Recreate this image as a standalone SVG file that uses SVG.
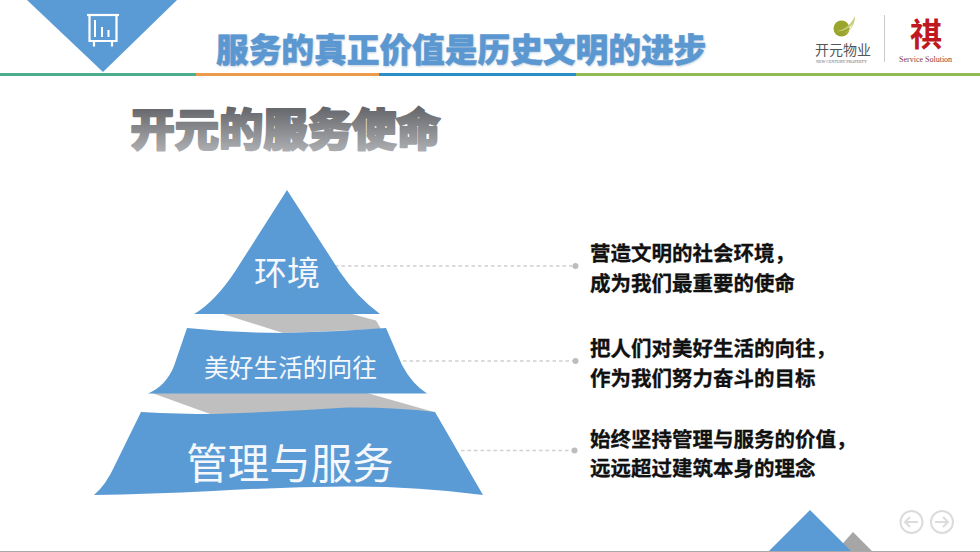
<svg xmlns="http://www.w3.org/2000/svg" width="980" height="552" viewBox="0 0 980 552">
<defs>
<linearGradient id="sub" x1="0" y1="0" x2="0" y2="1"><stop offset="0" stop-color="#4f5156"/><stop offset="1" stop-color="#b9babd"/></linearGradient>
<filter id="blurS" x="-5%" y="-20%" width="110%" height="140%"><feGaussianBlur stdDeviation="0.8"/></filter>
</defs>
<style>
.cjk{font-family:"Noto Sans CJK SC","Noto Sans",sans-serif}
.blue{fill:#5b9bd5}
.gray{fill:#bfbfbf}
.lbl{fill:#f4f8fc;text-anchor:middle;font-weight:400}
.desc{font-size:20.5px;font-weight:700;fill:#111;stroke:#111;stroke-width:.3}
.dash{stroke:#d0d0d0;stroke-width:1.3;stroke-dasharray:3.5 3;fill:none}
.dot{fill:#bdbdbd}
.nav{fill:none;stroke:#dcdcdc;stroke-width:2}
</style>
<rect width="980" height="552" fill="#fff"/>

<g id="header">
<path class="blue" d="M27 0H177L103 72Z"/>
<g fill="none" stroke="#fff" stroke-width="2.200">
<path d="M87 15H119"/><path d="M89.500 15V41H116.500V15"/><path d="M94 41V46.500M112 41V46.500"/>
<path d="M95 20V37M102 27V37M108.500 30V37" stroke-width="2"/>
</g>
<rect x="0" y="73" width="196" height="3" fill="#4caf8c"/>
<rect x="196" y="73" width="183" height="3" fill="#ec9a4c"/>
<rect x="379" y="73" width="197" height="3" fill="#2a8fc4"/>
<rect x="576" y="73" width="404" height="3" fill="#8fbc55"/>
<text class="cjk" x="216.800" y="62.800" font-size="32.700" font-weight="900" fill="#b7c9db" filter="url(#blurS)">服务的真正价值是历史文明的进步</text>
<text class="cjk" x="216" y="62" font-size="32.700" font-weight="900" fill="#5b97d0" stroke="#5b97d0" stroke-width=".5">服务的真正价值是历史文明的进步</text>
</g>

<g id="logo">
<circle cx="841.500" cy="28.500" r="8" fill="#9aa52e"/>
<path d="M837 31C844 30 851 25 855 16C855 24 851 31 844 34C848 31 851 28 853 24C848 29 843 32 837 31Z" fill="#c6cc7a"/>
<text class="cjk" x="815" y="55" font-size="14" fill="#555">开元物业</text>
<text x="816" y="62.500" font-size="4.100" font-family="Liberation Serif,serif" fill="#666">NEW CENTURY PROPERTY</text>
<rect x="884" y="15" width="1" height="47" fill="#ccc"/>
<text class="cjk" x="926" y="45.500" font-size="32" font-weight="700" fill="#c0181f" text-anchor="middle">祺</text>
<text x="899" y="62" font-size="8" font-family="Liberation Serif,serif" fill="#8a3a3a">Service Solution</text>
</g>

<g id="subtitle">
<text class="cjk" x="130.500" y="145.500" font-size="44.300" font-weight="900" fill="url(#sub)" stroke="url(#sub)" stroke-width="2.200" stroke-linejoin="round">开元的服务使命</text>
</g>

<g id="connectors">
<path class="dash" d="M335 266H575"/>
<path class="dash" d="M403 361H575"/>
<path class="dash" d="M461 450.500H574"/>
<circle class="dot" cx="575.500" cy="266" r="3"/>
<circle class="dot" cx="575.500" cy="361" r="3"/>
<circle class="dot" cx="574.500" cy="450.500" r="3"/>
</g>

<g id="band-1">
<path class="gray" d="M223 314H352L376 320.500L381 329L283 333Z"/>
</g>
<g id="band-2">
<path class="gray" d="M152 393H367L434 412L213 415Z"/>
</g>

<g id="node-env">
<path class="blue" d="M287 190L340 272Q357 297 380 314H194Q215 302 236 270Z"/>
<text class="cjk lbl" x="287" y="285" font-size="33">环境</text>
</g>
<g id="node-life">
<path class="blue" d="M187 328Q235 333 283 333Q335 332 386 328L402 365Q412 384 427 393.500H148Q166 386 174 366Z"/>
<text class="cjk lbl" x="290.500" y="377" font-size="24.700">美好生活的向往</text>
</g>
<g id="node-mgmt">
<path class="blue" d="M141 412Q180 414 213 414Q280 412 347 407.500Q395 407 435 412L483 495Q415 486 347 486.500Q280 487 213 491Q150 494 94 495Q106 485 115 465Z"/>
<text class="cjk lbl" x="290" y="479" font-size="41.500">管理与服务</text>
</g>

<g id="desc-1">
<text class="cjk desc" x="590" y="260.500">营造文明的社会环境，</text>
<text class="cjk desc" x="590" y="290.500">成为我们最重要的使命</text>
</g>
<g id="desc-2">
<text class="cjk desc" x="590" y="355.500">把人们对美好生活的向往，</text>
<text class="cjk desc" x="590" y="385.500">作为我们努力奋斗的目标</text>
</g>
<g id="desc-3">
<text class="cjk desc" x="590" y="446.500">始终坚持管理与服务的价值，</text>
<text class="cjk desc" x="590" y="475.500">远远超过建筑本身的理念</text>
</g>

<g id="footer">
<path fill="#a6a6a6" d="M853 532L872 551H836Z"/>
<path class="blue" d="M810 510L851 551H769Z"/>
<rect x="0" y="551" width="980" height="1" fill="#aaa"/>
<circle class="nav" cx="911.500" cy="522" r="11"/>
<path class="nav" d="M905 522H918M910 517L905 522L910 527"/>
<circle class="nav" cx="942" cy="522" r="11"/>
<path class="nav" d="M935 522H948M943 517L948 522L943 527"/>
</g>
</svg>
